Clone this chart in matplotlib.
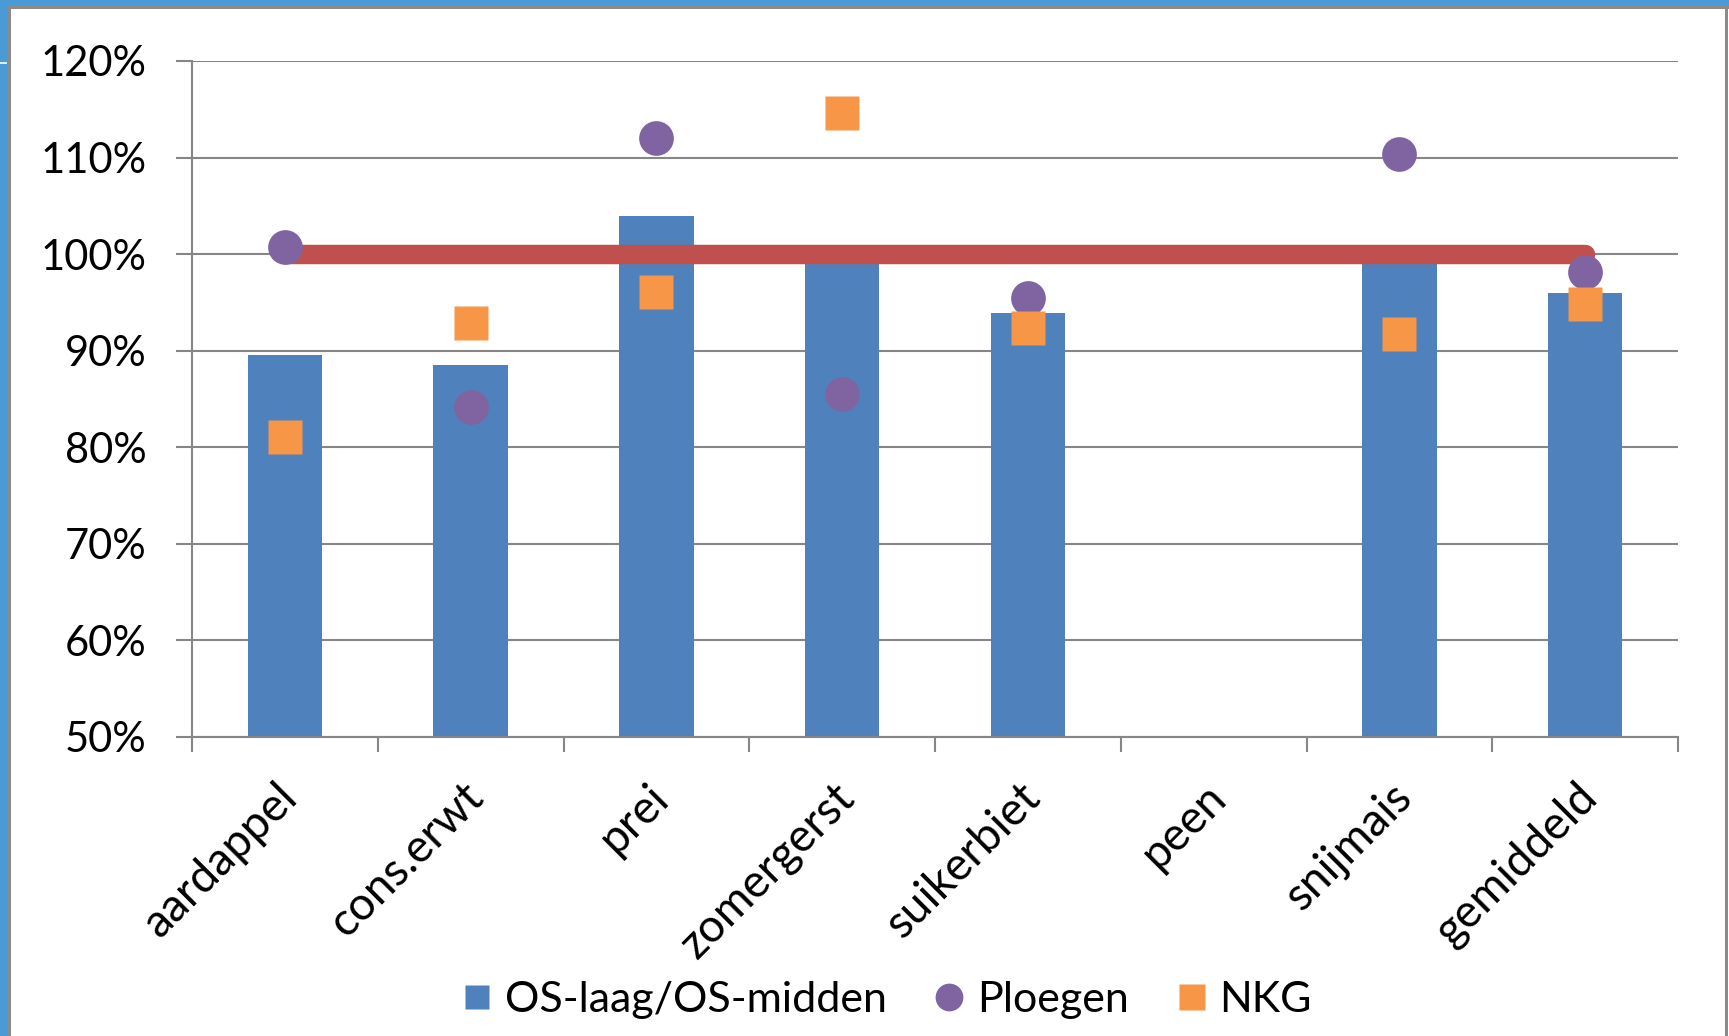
import numpy as np
import matplotlib.pyplot as plt
from matplotlib.lines import Line2D
from matplotlib.patches import Rectangle
from matplotlib.transforms import ScaledTranslation
from matplotlib.ticker import FuncFormatter, FixedLocator

plt.rcParams['font.family'] = ['Lato', 'DejaVu Sans']

# gewasopbrengst relatief t.o.v. OS-midden (in %)
gewassen = ['aardappel', 'cons.erwt', 'prei', 'zomergerst', 'suikerbiet',
            'peen', 'snijmais', 'gemiddeld']
os_laag = [89.6, 88.5, 103.9, 100.0, 93.9, np.nan, 100.0, 96.0]
ploegen = [100.7, 84.2, 112.0, 85.5, 95.5, np.nan, 110.4, 98.1]
nkg = [81.1, 92.9, 96.1, 114.6, 92.4, np.nan, 91.7, 94.8]
referentie = [100, 100, 100, 100, 100, 100, 100, 100]

blauw = '#4F81BD'
rood = '#C0504D'
paars = '#8064A2'
oranje = '#F79646'
grijs = '#868686'

fig = plt.figure(figsize=(17.29, 10.36), dpi=100)
ax = fig.add_axes([192/1729, 1 - 737/1036, (1678 - 192)/1729, (737 - 61)/1036])

x = np.arange(len(gewassen))
ax.bar(x, os_laag, width=0.4, bottom=0, color=blauw, zorder=2)
ax.plot(x, referentie, color=rood, lw=14, solid_capstyle='round', zorder=3)
ax.plot(x, ploegen, 'o', color=paars, ms=25, mec='none', zorder=4)
ax.plot(x, nkg, 's', color=oranje, ms=24, mec='none', zorder=5)

ax.set_xlim(-0.5, len(gewassen) - 0.5)
ax.set_ylim(50, 120)
ax.set_yticks(np.arange(50, 121, 10))
ax.yaxis.set_major_formatter(FuncFormatter(lambda v, p: f'{v:.0f}%'))
ax.yaxis.grid(True, color=grijs, lw=1.5, zorder=0)
ax.set_axisbelow(True)

ax.set_xticks(x)
ax.set_xticklabels(gewassen, rotation=45, ha='right', va='top',
                   rotation_mode='anchor')
ax.xaxis.set_minor_locator(FixedLocator(np.arange(-0.5, len(gewassen), 1)))
ax.tick_params(axis='x', which='major', length=0, pad=28, labelsize=33)
ax.tick_params(axis='x', which='minor', length=11, width=1.5, color=grijs)
ax.tick_params(axis='y', length=11.5, width=1.5, color=grijs, pad=21,
               labelsize=30)
for lbl in ax.get_xticklabels():
    lbl.set_transform(lbl.get_transform() + ScaledTranslation(-0.09, 0, fig.dpi_scale_trans))

for s in ['top', 'right']:
    ax.spines[s].set_visible(False)
for s in ['left', 'bottom']:
    ax.spines[s].set_color(grijs)
    ax.spines[s].set_linewidth(1.5)

handles = [Line2D([], [], ls='none', marker='s', ms=17, color=blauw, mec='none'),
           Line2D([], [], ls='none', marker='o', ms=20, color=paars, mec='none'),
           Line2D([], [], ls='none', marker='s', ms=19, color=oranje, mec='none')]
fig.legend(handles, ['OS-laag/OS-midden', 'Ploegen', 'NKG'], loc='center',
           bbox_to_anchor=(888/1729, 1 - 1000/1036), ncol=3, frameon=False,
           fontsize=31, handlelength=0.6, handletextpad=0.35, columnspacing=1.15)

# kader rond de grafiek
def kader(x0, y0, w, h, kleur):
    fig.add_artist(Rectangle((x0/1729, 1 - (y0 + h)/1036), w/1729, h/1036,
                             transform=fig.transFigure, color=kleur, lw=0))

kader(0, 0, 1729, 5, '#4A9AD5')
kader(0, 0, 7, 1036, '#4A9AD5')
kader(7, 5, 1722, 4, '#8A8A8A')
kader(7, 5, 4, 1031, '#8A8A8A')
kader(1725, 5, 3, 1031, '#8A8A8A')
kader(0, 62, 7, 2, '#DDEEFF')

fig.savefig('out.png', dpi=100)
